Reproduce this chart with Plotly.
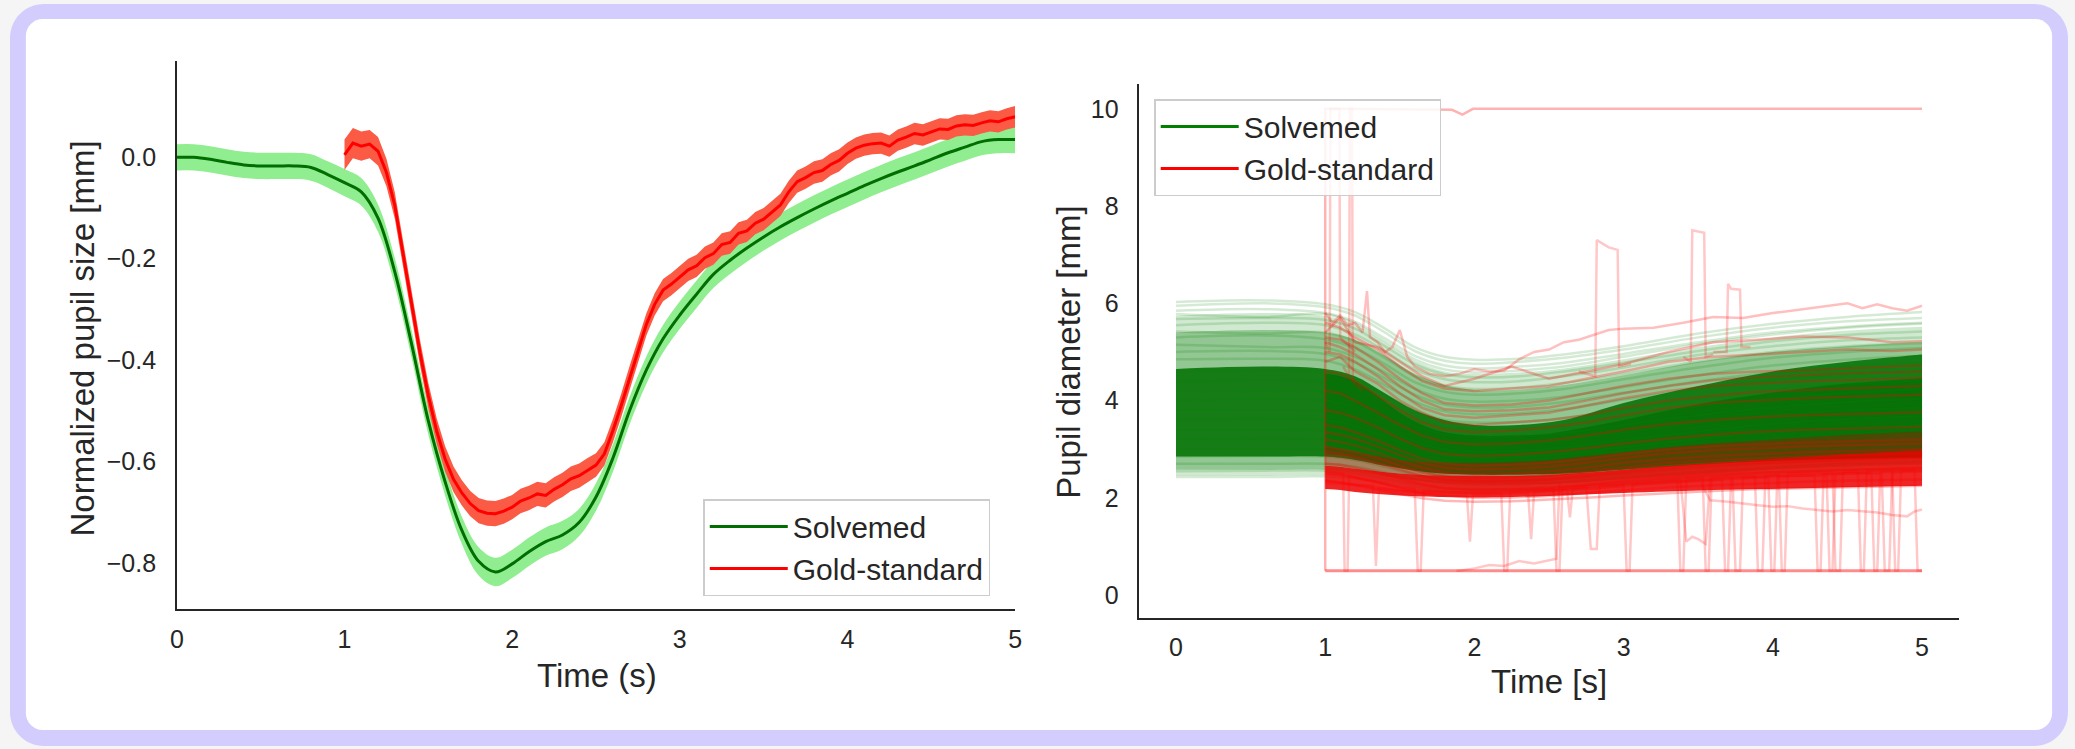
import plotly.graph_objects as go

W, H = 2075, 749

# ---------------- Left panel: normalized pupil size ----------------
T_SOLV = [0.0, 0.1, 0.2, 0.3, 0.4, 0.5, 0.6, 0.7, 0.8, 0.9, 1.0, 1.1, 1.2, 1.3, 1.4, 1.5, 1.6, 1.7, 1.8, 1.9,
          2.0, 2.1, 2.2, 2.3, 2.4, 2.5, 2.6, 2.7, 2.8, 2.9, 3.0, 3.1, 3.2, 3.3, 3.4, 3.5, 3.6, 3.7, 3.8, 3.9,
          4.0, 4.1, 4.2, 4.3, 4.4, 4.5, 4.6, 4.7, 4.8, 4.9, 5.0]
SOLV_MEAN = [0.0, 0.0, -0.004, -0.01, -0.015, -0.017, -0.017, -0.017, -0.02, -0.034, -0.05, -0.068, -0.12,
             -0.226, -0.368, -0.52, -0.64, -0.736, -0.797, -0.818, -0.802, -0.778, -0.758, -0.745, -0.72,
             -0.67, -0.594, -0.5, -0.42, -0.358, -0.311, -0.27, -0.231, -0.203, -0.179, -0.157, -0.137,
             -0.119, -0.102, -0.086, -0.071, -0.056, -0.042, -0.029, -0.017, -0.004, 0.009, 0.02, 0.031,
             0.035, 0.035]
SOLV_CI = [0.026, 0.026, 0.026, 0.026, 0.026, 0.026, 0.026, 0.026, 0.026, 0.026,
           0.027, 0.027, 0.027, 0.027, 0.027, 0.027, 0.027, 0.027, 0.028, 0.028,
           0.028, 0.028, 0.028, 0.028, 0.027, 0.027, 0.027, 0.027, 0.027, 0.027,
           0.027, 0.027, 0.027, 0.027, 0.027, 0.027, 0.027, 0.027, 0.027, 0.027,
           0.027, 0.027, 0.027, 0.027, 0.027, 0.027, 0.027, 0.027, 0.027, 0.027, 0.027]

T_GOLD = [1.0, 1.05, 1.1, 1.15, 1.2, 1.25, 1.3, 1.35, 1.4, 1.45, 1.5, 1.55, 1.6, 1.65, 1.7, 1.75, 1.8, 1.85,
          1.9, 1.95, 2.0, 2.05, 2.1, 2.15, 2.2, 2.25, 2.3, 2.35, 2.4, 2.45, 2.5, 2.55, 2.6, 2.65, 2.7, 2.75,
          2.8, 2.85, 2.9, 2.95, 3.0, 3.05, 3.1, 3.15, 3.2, 3.25, 3.3, 3.35, 3.4, 3.45, 3.5, 3.55, 3.6, 3.65,
          3.7, 3.75, 3.8, 3.85, 3.9, 3.95, 4.0, 4.05, 4.1, 4.15, 4.2, 4.25, 4.3, 4.35, 4.4, 4.45, 4.5, 4.55,
          4.6, 4.65, 4.7, 4.75, 4.8, 4.85, 4.9, 4.95, 5.0]
GOLD_MEAN = [0.005, 0.028, 0.022, 0.026, 0.012, -0.03, -0.095, -0.19, -0.29, -0.385, -0.47, -0.54, -0.595,
             -0.635, -0.662, -0.683, -0.697, -0.702, -0.703, -0.698, -0.69, -0.678, -0.672, -0.664, -0.667,
             -0.655, -0.646, -0.634, -0.628, -0.617, -0.607, -0.585, -0.54, -0.49, -0.435, -0.385, -0.33,
             -0.29, -0.262, -0.25, -0.236, -0.222, -0.214, -0.198, -0.19, -0.172, -0.168, -0.15, -0.145,
             -0.13, -0.122, -0.108, -0.094, -0.068, -0.048, -0.04, -0.03, -0.026, -0.014, -0.006, 0.008,
             0.018, 0.024, 0.027, 0.028, 0.022, 0.034, 0.04, 0.047, 0.044, 0.05, 0.056, 0.055, 0.062, 0.064,
             0.063, 0.068, 0.072, 0.07, 0.076, 0.08]
GOLD_CI = [0.03, 0.03, 0.029, 0.028, 0.028, 0.027, 0.026, 0.026, 0.025, 0.025,
           0.025, 0.025, 0.025, 0.025, 0.025, 0.025, 0.025, 0.025, 0.025, 0.025,
           0.024, 0.024, 0.024, 0.024, 0.024, 0.024, 0.024, 0.024, 0.024, 0.024,
           0.023, 0.023, 0.023, 0.023, 0.023, 0.023, 0.022, 0.022, 0.022, 0.022,
           0.022, 0.022, 0.022, 0.022, 0.022, 0.022, 0.022, 0.022, 0.022, 0.022,
           0.022, 0.022, 0.022, 0.022, 0.022, 0.022, 0.022, 0.022, 0.022, 0.022,
           0.021, 0.021, 0.021, 0.021, 0.021, 0.021, 0.021, 0.021, 0.021, 0.021,
           0.021, 0.021, 0.021, 0.021, 0.021, 0.021, 0.021, 0.021, 0.021, 0.021, 0.021]

LEFT_XTICKS = [0, 1, 2, 3, 4, 5]
LEFT_YTICKS = [-0.8, -0.6, -0.4, -0.2, 0.0]

# ---------------- Right panel: individual pupil diameter traces ----------------
T_GRID = [0.0, 0.6, 1.0, 1.2, 1.4, 1.6, 1.8, 2.0, 2.3, 2.6, 3.0, 3.5, 4.0, 4.5, 5.0]
SOLV_OUT_HI = [5.75, 5.8, 5.74, 5.55, 5.2, 4.82, 4.6, 4.55, 4.58, 4.66, 4.85, 5.1, 5.3, 5.44, 5.52]
SOLV_OUT_LO = [2.45, 2.45, 2.46, 2.42, 2.32, 2.22, 2.15, 2.12, 2.13, 2.17, 2.26, 2.36, 2.46, 2.52, 2.56]
SOLV_MID_HI = [5.4, 5.45, 5.4, 5.25, 4.92, 4.55, 4.32, 4.22, 4.23, 4.32, 4.52, 4.8, 5.0, 5.12, 5.2]
SOLV_MID_LO = [2.58, 2.58, 2.58, 2.53, 2.44, 2.36, 2.3, 2.28, 2.28, 2.3, 2.38, 2.48, 2.58, 2.64, 2.68]
SOLV_CORE_HI = [4.65, 4.7, 4.65, 4.5, 4.15, 3.8, 3.6, 3.5, 3.5, 3.6, 3.95, 4.3, 4.6, 4.8, 4.95]
SOLV_CORE_LO = [2.85, 2.85, 2.85, 2.78, 2.66, 2.56, 2.5, 2.48, 2.48, 2.5, 2.58, 2.68, 2.76, 2.8, 2.82]
SOLV_TRACES = [
    [6.03, 6.06, 5.98, 5.82, 5.48, 5.1, 4.9, 4.84, 4.86, 4.95, 5.12, 5.38, 5.58, 5.72, 5.82],
    [5.95, 6.0, 5.92, 5.75, 5.4, 5.02, 4.82, 4.76, 4.8, 4.88, 5.05, 5.3, 5.5, 5.63, 5.7],
    [5.85, 5.88, 5.8, 5.62, 5.28, 4.92, 4.72, 4.66, 4.7, 4.78, 4.96, 5.2, 5.4, 5.52, 5.6],
    [5.78, 5.72, 5.78, 5.58, 5.22, 4.85, 4.64, 4.58, 4.62, 4.7, 4.9, 5.16, 5.36, 5.5, 5.58],
    [5.68, 5.7, 5.66, 5.48, 5.12, 4.75, 4.54, 4.48, 4.5, 4.6, 4.78, 5.02, 5.22, 5.35, 5.42],
    [5.55, 5.6, 5.55, 5.36, 5.02, 4.64, 4.44, 4.38, 4.4, 4.5, 4.68, 4.94, 5.12, 5.24, 5.3],
    [5.42, 5.38, 5.4, 5.22, 4.88, 4.5, 4.3, 4.24, 4.27, 4.36, 4.55, 4.8, 5.0, 5.12, 5.18],
    [5.3, 5.34, 5.26, 5.08, 4.75, 4.38, 4.18, 4.12, 4.15, 4.24, 4.44, 4.68, 4.88, 5.0, 5.08],
    [5.15, 5.1, 5.08, 4.9, 4.58, 4.24, 4.04, 3.98, 4.0, 4.08, 4.28, 4.52, 4.72, 4.84, 4.92],
    [5.0, 5.02, 4.96, 4.78, 4.46, 4.12, 3.92, 3.86, 3.88, 3.97, 4.16, 4.4, 4.58, 4.7, 4.77],
    [4.85, 4.86, 4.82, 4.64, 4.32, 3.98, 3.78, 3.72, 3.74, 3.82, 4.02, 4.24, 4.42, 4.54, 4.62],
    [4.6, 4.62, 4.58, 4.42, 4.12, 3.8, 3.6, 3.55, 3.56, 3.64, 3.82, 4.04, 4.22, 4.34, 4.42],
    [4.4, 4.42, 4.38, 4.24, 3.95, 3.64, 3.45, 3.4, 3.41, 3.49, 3.66, 3.88, 4.05, 4.16, 4.24],
    [4.2, 4.2, 4.18, 4.04, 3.77, 3.48, 3.3, 3.25, 3.26, 3.33, 3.5, 3.7, 3.86, 3.97, 4.04],
    [4.0, 4.03, 4.0, 3.87, 3.6, 3.32, 3.15, 3.1, 3.11, 3.18, 3.34, 3.54, 3.7, 3.8, 3.86],
    [3.8, 3.8, 3.78, 3.66, 3.42, 3.16, 3.0, 2.96, 2.97, 3.04, 3.19, 3.37, 3.52, 3.62, 3.68],
    [3.6, 3.62, 3.6, 3.48, 3.26, 3.02, 2.87, 2.83, 2.84, 2.9, 3.04, 3.21, 3.35, 3.44, 3.5],
    [3.4, 3.4, 3.38, 3.28, 3.08, 2.86, 2.72, 2.68, 2.7, 2.75, 2.88, 3.04, 3.17, 3.26, 3.32],
    [3.2, 3.22, 3.2, 3.1, 2.92, 2.72, 2.6, 2.56, 2.57, 2.62, 2.74, 2.88, 3.0, 3.08, 3.14],
    [3.0, 3.0, 2.98, 2.9, 2.74, 2.57, 2.46, 2.43, 2.44, 2.49, 2.6, 2.73, 2.84, 2.92, 2.97],
    [2.85, 2.86, 2.85, 2.78, 2.64, 2.48, 2.38, 2.35, 2.36, 2.4, 2.5, 2.62, 2.72, 2.8, 2.85],
    [2.7, 2.7, 2.7, 2.64, 2.52, 2.38, 2.3, 2.27, 2.28, 2.32, 2.42, 2.53, 2.62, 2.7, 2.74],
    [2.55, 2.56, 2.56, 2.5, 2.4, 2.28, 2.2, 2.18, 2.19, 2.23, 2.32, 2.42, 2.52, 2.58, 2.62],
    [2.43, 2.43, 2.44, 2.4, 2.3, 2.2, 2.13, 2.1, 2.11, 2.15, 2.24, 2.34, 2.44, 2.5, 2.55],
]

T_GOLD_GRID = [1.0, 1.1, 1.2, 1.35, 1.5, 1.65, 1.8, 2.0, 2.25, 2.5, 2.75, 3.0, 3.3, 3.6, 3.9, 4.2, 4.5, 4.8, 5.0]
SOLV_LATE_HI = [4.55, 4.5, 4.4, 4.1, 3.75, 3.5, 3.35, 3.28, 3.28, 3.32, 3.45, 3.6, 3.8, 3.98, 4.12, 4.25, 4.35, 4.42, 4.46]
SOLV_LATE_LO = [2.9, 2.88, 2.82, 2.72, 2.62, 2.55, 2.5, 2.48, 2.48, 2.5, 2.54, 2.6, 2.68, 2.74, 2.78, 2.8, 2.82, 2.84, 2.85]
GOLD_CORE_HI = [2.66, 2.64, 2.6, 2.55, 2.5, 2.47, 2.46, 2.45, 2.45, 2.47, 2.52, 2.58, 2.66, 2.72, 2.78, 2.84, 2.9, 2.95, 2.98]
GOLD_CORE_LO = [2.18, 2.16, 2.12, 2.08, 2.05, 2.03, 2.02, 2.01, 2.02, 2.04, 2.07, 2.1, 2.13, 2.16, 2.18, 2.2, 2.22, 2.24, 2.25]
GOLD_MIX_HI = [3.05, 3.0, 2.94, 2.86, 2.78, 2.74, 2.72, 2.72, 2.74, 2.78, 2.86, 2.94, 3.04, 3.12, 3.18, 3.24, 3.3, 3.34, 3.37]
GOLD_TRACES = [
    [5.6, 5.5, 5.3, 5.05, 4.7, 4.4, 4.25, 4.2, 4.25, 4.3, 4.45, 4.6, 4.8, 4.9, 4.95, 5.0, 5.05, 5.02, 5.05],
    [5.3, 5.25, 5.1, 4.8, 4.45, 4.15, 3.95, 3.9, 3.92, 4.0, 4.15, 4.3, 4.45, 4.55, 4.6, 4.62, 4.66, 4.7, 4.72],
    [5.0, 4.95, 4.8, 4.5, 4.15, 3.85, 3.7, 3.65, 3.7, 3.75, 3.9, 4.05, 4.2, 4.3, 4.35, 4.4, 4.42, 4.45, 4.47],
    [4.6, 4.55, 4.4, 4.1, 3.8, 3.55, 3.4, 3.35, 3.38, 3.45, 3.55, 3.7, 3.85, 3.95, 4.0, 4.05, 4.08, 4.1, 4.12],
    [4.2, 4.15, 4.0, 3.75, 3.5, 3.28, 3.15, 3.1, 3.12, 3.18, 3.28, 3.4, 3.52, 3.6, 3.66, 3.7, 3.72, 3.75, 3.76],
    [3.8, 3.75, 3.65, 3.45, 3.22, 3.02, 2.9, 2.86, 2.88, 2.94, 3.02, 3.12, 3.22, 3.3, 3.36, 3.4, 3.42, 3.45, 3.46],
    [3.5, 3.45, 3.35, 3.18, 2.98, 2.8, 2.7, 2.66, 2.68, 2.72, 2.8, 2.9, 3.0, 3.06, 3.1, 3.14, 3.16, 3.18, 3.2],
    [3.2, 3.15, 3.08, 2.93, 2.76, 2.62, 2.52, 2.48, 2.5, 2.54, 2.62, 2.72, 2.8, 2.86, 2.9, 2.94, 2.96, 2.98, 3.0],
    [2.95, 2.9, 2.85, 2.72, 2.58, 2.45, 2.36, 2.33, 2.34, 2.38, 2.46, 2.54, 2.62, 2.68, 2.72, 2.75, 2.78, 2.8, 2.82],
    [2.7, 2.68, 2.62, 2.52, 2.4, 2.28, 2.2, 2.16, 2.17, 2.2, 2.27, 2.35, 2.42, 2.48, 2.52, 2.55, 2.58, 2.6, 2.62],
    [2.5, 2.48, 2.42, 2.32, 2.2, 2.1, 2.04, 2.0, 2.01, 2.04, 2.1, 2.16, 2.22, 2.26, 2.3, 2.33, 2.35, 2.37, 2.38],
    [2.35, 2.32, 2.26, 2.17, 2.07, 1.99, 1.94, 1.92, 1.93, 1.96, 2.0, 2.05, 2.1, 2.14, 2.18, 2.2, 2.22, 2.24, 2.25],
    [5.4, 5.7, 5.2, 5.1, 4.8, 4.5, 4.3, 4.45, 4.7, 4.45, 4.6, 4.75, 5.0, 5.2, 5.25, 5.32, 5.3, 5.2, 5.22],
    [4.8, 4.9, 4.6, 4.35, 4.0, 3.75, 3.55, 3.5, 3.55, 3.6, 3.7, 3.85, 4.0, 4.1, 4.18, 4.22, 4.25, 4.28, 4.3],
    [5.2, 5.1, 4.95, 4.65, 4.3, 4.0, 3.82, 3.78, 3.8, 3.86, 4.0, 4.15, 4.3, 4.42, 4.48, 4.52, 4.56, 4.58, 4.6],
    [3.35, 3.3, 3.22, 3.06, 2.88, 2.72, 2.62, 2.58, 2.6, 2.64, 2.72, 2.82, 2.92, 2.98, 3.02, 3.06, 3.08, 3.1, 3.12],
    [3.05, 3.0, 2.95, 2.82, 2.66, 2.52, 2.44, 2.4, 2.42, 2.46, 2.54, 2.63, 2.72, 2.78, 2.82, 2.85, 2.88, 2.9, 2.92],
]

# Artefact traces of the gold standard, as (time, diameter) samples
GOLD_TOP = [(1.0, 5.8), (1.05, 5.6), (1.1, 5.75), (1.15, 5.55), (1.2, 5.6), (1.25, 5.4), (1.28, 6.25),
            (1.3, 5.3), (1.35, 5.2), (1.4, 5.0), (1.45, 5.1), (1.5, 5.45), (1.55, 4.9), (1.6, 4.7),
            (1.7, 4.55), (1.8, 4.5), (1.9, 4.55), (2.0, 4.65), (2.1, 4.6), (2.2, 4.62), (2.3, 4.85),
            (2.4, 5.0), (2.5, 5.05), (2.6, 5.2), (2.7, 5.25), (2.8, 5.35), (2.9, 5.45), (3.0, 5.48),
            (3.2, 5.5), (3.4, 5.6), (3.6, 5.72), (3.8, 5.7), (4.0, 5.8), (4.2, 5.88), (4.4, 5.95),
            (4.5, 6.0), (4.6, 5.9), (4.7, 5.98), (4.8, 5.9), (4.9, 5.85), (5.0, 5.95)]
GOLD_TEN = [(1.0, 0.5), (1.0, 10.0), (1.06, 10.0), (1.85, 9.98), (1.92, 9.88), (1.99, 10.0), (2.2, 10.0), (5.0, 10.0)]
GOLD_FLOOR = [(1.0, 0.5), (5.0, 0.5)]
GOLD_SPIKE_A = [(1.0, 5.2), (1.03, 5.0), (1.035, 10.0), (1.095, 10.0), (1.1, 5.3), (1.2, 5.0)]
GOLD_SPIKE_B = [(1.12, 4.7), (1.16, 4.5), (1.165, 10.0), (1.18, 10.0), (1.185, 4.4), (1.25, 4.2)]
GOLD_SPIKE_C = [(2.7, 4.6), (2.81, 4.5), (2.82, 7.3), (2.9, 7.15), (2.96, 7.1), (2.97, 4.7), (3.05, 4.75)]
GOLD_SPIKE_D = [(3.4, 4.9), (3.45, 4.8), (3.46, 7.5), (3.5, 7.48), (3.54, 7.45), (3.55, 4.9), (3.6, 4.95)]
GOLD_SPIKE_E = [(3.6, 5.0), (3.69, 5.0), (3.7, 6.4), (3.72, 6.3), (3.78, 6.28), (3.79, 5.1), (3.85, 5.1)]
GOLD_BLINK_A = [(1.0, 2.55), (1.12, 2.5), (1.13, 0.5), (1.15, 0.5), (1.16, 2.45), (1.3, 2.35), (1.5, 2.22),
                (1.6, 2.18), (1.62, 0.5), (1.64, 0.5), (1.66, 2.15), (1.8, 2.12), (2.0, 2.1), (2.18, 2.1),
                (2.2, 0.5), (2.22, 0.5), (2.24, 2.12), (2.5, 2.15), (2.8, 2.2), (3.0, 2.25), (3.02, 0.5),
                (3.04, 0.5), (3.06, 2.28), (3.4, 2.35), (3.73, 2.4), (3.75, 0.5), (3.78, 0.5), (3.8, 2.42),
                (4.0, 2.45), (4.28, 2.46), (4.3, 0.5), (4.32, 0.5), (4.34, 2.48), (4.5, 2.5), (4.73, 2.5),
                (4.75, 0.5), (4.78, 0.5), (4.8, 2.52), (5.0, 2.55)]
GOLD_BLINK_B = [(1.0, 2.35), (1.5, 2.15), (2.0, 2.1), (2.53, 2.18), (2.55, 0.5), (2.57, 0.5), (2.59, 2.2),
                (3.0, 2.3), (3.36, 2.38), (3.38, 0.5), (3.4, 0.5), (3.42, 2.4), (3.53, 2.42), (3.55, 0.5),
                (3.57, 0.5), (3.59, 2.42), (3.88, 2.45), (3.9, 0.5), (3.93, 0.5), (3.95, 2.46), (4.04, 2.48),
                (4.06, 0.5), (4.08, 0.5), (4.1, 2.5), (4.4, 2.52), (4.42, 0.5), (4.45, 0.5), (4.47, 2.54),
                (4.57, 2.55), (4.59, 0.5), (4.61, 0.5), (4.63, 2.56), (4.95, 2.58), (4.97, 0.5), (5.0, 0.5)]
GOLD_BLINK_C = [(1.0, 2.3), (1.32, 2.25), (1.34, 0.6), (1.36, 2.2), (1.6, 2.1), (1.95, 2.05), (1.97, 1.1),
                (1.99, 2.05), (2.36, 2.1), (2.38, 1.15), (2.4, 2.12), (2.62, 2.18), (2.64, 1.6), (2.66, 2.2),
                (2.75, 2.22), (2.78, 0.95), (2.82, 0.95), (2.84, 2.25), (3.2, 2.3), (3.66, 2.38), (3.68, 0.5),
                (3.7, 0.5), (3.72, 2.4), (3.97, 2.42), (3.99, 0.5), (4.01, 0.5), (4.03, 2.44), (4.3, 2.46),
                (4.36, 2.48), (4.38, 0.5), (4.4, 0.5), (4.42, 2.5), (4.66, 2.52), (4.68, 0.5), (4.7, 0.5),
                (4.72, 2.54), (4.8, 2.55), (4.82, 0.5), (4.84, 0.5), (4.86, 2.56), (5.0, 2.58)]
GOLD_LOW = [(1.88, 0.5), (1.9, 0.5), (2.0, 0.55), (2.1, 0.62), (2.2, 0.6), (2.3, 0.7), (2.4, 0.65),
            (2.5, 0.72), (2.55, 0.75), (2.57, 2.3)]
GOLD_MIDDROP = [(3.38, 2.4), (3.42, 1.1), (3.46, 1.2), (3.5, 1.15), (3.55, 1.05), (3.58, 2.4)]
GOLD_SAG = [(3.52, 2.3), (3.58, 1.95), (3.7, 1.92), (3.8, 1.88), (3.9, 1.85), (4.0, 1.82), (4.1, 1.83),
            (4.2, 1.78), (4.3, 1.75), (4.4, 1.72), (4.5, 1.75), (4.6, 1.73), (4.7, 1.7), (4.8, 1.65),
            (4.9, 1.62), (4.95, 1.72), (5.0, 1.76)]

RIGHT_XTICKS = [0, 1, 2, 3, 4, 5]
RIGHT_YTICKS = [0, 2, 4, 6, 8, 10]

# ---------------- colours ----------------
GREEN = "#008000"
GREEN_DARK = "#006e00"
LIGHTGREEN = "#90ee90"
RED = "#ff0000"
TOMATO = "#fb5a44"
TXT = "#262626"
LAVENDER = "#d3cdfd"
FONT = "Liberation Sans, Arial, Helvetica, sans-serif"

fig = go.Figure()

# ---- left panel ----
solv_lo = [m - c for m, c in zip(SOLV_MEAN, SOLV_CI)]
solv_hi = [m + c for m, c in zip(SOLV_MEAN, SOLV_CI)]
gold_lo = [m - c for m, c in zip(GOLD_MEAN, GOLD_CI)]
gold_hi = [m + c for m, c in zip(GOLD_MEAN, GOLD_CI)]

fig.add_trace(go.Scatter(x=T_SOLV, y=solv_lo, mode="lines", line=dict(width=0, shape="spline"),
                         showlegend=False, hoverinfo="skip", xaxis="x", yaxis="y"))
fig.add_trace(go.Scatter(x=T_SOLV, y=solv_hi, mode="lines", line=dict(width=0, shape="spline"),
                         fill="tonexty", fillcolor=LIGHTGREEN, showlegend=False, hoverinfo="skip",
                         xaxis="x", yaxis="y"))
fig.add_trace(go.Scatter(x=T_SOLV, y=SOLV_MEAN, mode="lines", name="Solvemed",
                         line=dict(color=GREEN_DARK, width=3, shape="spline"), legend="legend",
                         xaxis="x", yaxis="y"))
fig.add_trace(go.Scatter(x=T_GOLD, y=gold_lo, mode="lines", line=dict(width=0),
                         showlegend=False, hoverinfo="skip", xaxis="x", yaxis="y"))
fig.add_trace(go.Scatter(x=T_GOLD, y=gold_hi, mode="lines", line=dict(width=0),
                         fill="tonexty", fillcolor=TOMATO, showlegend=False, hoverinfo="skip",
                         xaxis="x", yaxis="y"))
fig.add_trace(go.Scatter(x=T_GOLD, y=GOLD_MEAN, mode="lines", name="Gold-standard",
                         line=dict(color=RED, width=3), legend="legend", xaxis="x", yaxis="y"))

# ---- right panel: Solvemed traces ----
def band(xs, lo, hi, color, shape="spline"):
    fig.add_trace(go.Scatter(x=xs, y=lo, mode="lines", line=dict(width=0, shape=shape),
                             showlegend=False, hoverinfo="skip", xaxis="x2", yaxis="y2"))
    fig.add_trace(go.Scatter(x=xs, y=hi, mode="lines", line=dict(width=0, shape=shape),
                             fill="tonexty", fillcolor=color, showlegend=False, hoverinfo="skip",
                             xaxis="x2", yaxis="y2"))

band(T_GRID, SOLV_OUT_LO, SOLV_OUT_HI, "rgba(0,128,0,0.18)")
band(T_GRID, SOLV_MID_LO, SOLV_MID_HI, "rgba(0,120,0,0.3)")
band(T_GRID, SOLV_CORE_LO, SOLV_CORE_HI, "rgba(0,112,0,0.85)")
band(T_GOLD_GRID, SOLV_LATE_LO, SOLV_LATE_HI, "rgba(0,105,0,0.6)")
for row in SOLV_TRACES:
    fig.add_trace(go.Scatter(x=T_GRID, y=row, mode="lines",
                             line=dict(color="rgba(0,128,0,0.17)", width=2.5, shape="spline"),
                             showlegend=False, hoverinfo="skip", xaxis="x2", yaxis="y2"))

# ---- right panel: gold-standard traces ----
band(T_GOLD_GRID, GOLD_CORE_HI, GOLD_MIX_HI, "rgba(200,0,0,0.35)")
band(T_GOLD_GRID, GOLD_CORE_LO, GOLD_CORE_HI, "rgba(236,0,0,0.85)")
for row in GOLD_TRACES:
    fig.add_trace(go.Scatter(x=T_GOLD_GRID, y=row, mode="lines",
                             line=dict(color="rgba(255,0,0,0.28)", width=2.5),
                             showlegend=False, hoverinfo="skip", xaxis="x2", yaxis="y2"))

def gold_line(pts, alpha=0.22, width=2.5):
    fig.add_trace(go.Scatter(x=[p[0] for p in pts], y=[p[1] for p in pts], mode="lines",
                             line=dict(color=f"rgba(255,0,0,{alpha})", width=width),
                             showlegend=False, hoverinfo="skip", xaxis="x2", yaxis="y2"))

gold_line(GOLD_TOP, 0.25)
gold_line(GOLD_TEN, 0.3)
gold_line(GOLD_FLOOR, 0.45, 3)
for pts in (GOLD_SPIKE_A, GOLD_SPIKE_B, GOLD_SPIKE_C, GOLD_SPIKE_D, GOLD_SPIKE_E,
            GOLD_BLINK_A, GOLD_BLINK_B, GOLD_BLINK_C, GOLD_LOW, GOLD_MIDDROP, GOLD_SAG):
    gold_line(pts, 0.22)

# legend handles for the right panel
fig.add_trace(go.Scatter(x=[None], y=[None], mode="lines", name="Solvemed",
                         line=dict(color=GREEN, width=3), legend="legend2", xaxis="x2", yaxis="y2"))
fig.add_trace(go.Scatter(x=[None], y=[None], mode="lines", name="Gold-standard",
                         line=dict(color=RED, width=3), legend="legend2", xaxis="x2", yaxis="y2"))

# ---------------- card background ----------------
def px(x):
    return x / W

def py(y):
    return 1 - y / H

def rrect(x0, y0, x1, y1, r):
    k = 0.5523 * r
    pts = [
        ("M", [(x0 + r, y0)]),
        ("L", [(x1 - r, y0)]),
        ("C", [(x1 - r + k, y0), (x1, y0 + r - k), (x1, y0 + r)]),
        ("L", [(x1, y1 - r)]),
        ("C", [(x1, y1 - r + k), (x1 - r + k, y1), (x1 - r, y1)]),
        ("L", [(x0 + r, y1)]),
        ("C", [(x0 + r - k, y1), (x0, y1 - r + k), (x0, y1 - r)]),
        ("L", [(x0, y0 + r)]),
        ("C", [(x0, y0 + r - k), (x0 + r - k, y0), (x0 + r, y0)]),
    ]
    s = ""
    for cmd, cs in pts:
        s += cmd + " ".join(f"{px(a):.6f},{py(b):.6f}" for a, b in cs) + " "
    return s + "Z"

shapes = [
    dict(type="path", path=rrect(3, 4, 2075, 746, 34), xref="paper", yref="paper",
         fillcolor=LAVENDER, line=dict(width=0), layer="below"),
    dict(type="path", path=rrect(19, 19, 2059, 730, 17), xref="paper", yref="paper",
         fillcolor="white", line=dict(width=0), layer="below"),
]

axis_common = dict(showline=True, linecolor=TXT, linewidth=1.5, ticks="", showgrid=False,
                   zeroline=False, tickfont=dict(size=25, color=TXT, family=FONT))

legend_common = dict(xanchor="left", yanchor="top", bgcolor="rgba(255,255,255,0.85)",
                     bordercolor="#cccccc", borderwidth=1.5, font=dict(size=30, color=TXT, family=FONT),
                     itemwidth=78, tracegroupgap=0, traceorder="normal")

fig.update_layout(
    width=W, height=H, autosize=False,
    margin=dict(l=0, r=0, t=0, b=0, pad=0),
    paper_bgcolor="#f5f5f5", plot_bgcolor="rgba(0,0,0,0)",
    font=dict(family=FONT, color=TXT),
    shapes=shapes,
    xaxis=dict(domain=[px(171), px(1015)], range=[0, 5], tickvals=LEFT_XTICKS, anchor="y",
               ticklabelstandoff=7, **axis_common),
    yaxis=dict(domain=[py(609), py(61)], range=[-0.891, 0.19], tickvals=LEFT_YTICKS, tickformat=".1f",
               anchor="x", ticklabelstandoff=14, **axis_common),
    xaxis2=dict(domain=[px(1140), px(1965)], range=[-0.246, 5.246], tickvals=RIGHT_XTICKS, anchor="y2",
                ticklabelstandoff=6, **axis_common),
    yaxis2=dict(domain=[py(618), py(84)], range=[-0.47, 10.51], tickvals=RIGHT_YTICKS, anchor="x2",
                ticklabelstandoff=14, **axis_common),
    legend=dict(x=px(701), y=py(499), **legend_common),
    legend2=dict(x=px(1155), y=py(99), **legend_common),
    annotations=[
        dict(text="Normalized pupil size [mm]", x=px(76), y=py(338), xref="paper", yref="paper",
             textangle=-90, showarrow=False, font=dict(size=33, color=TXT, family=FONT),
             xanchor="center", yanchor="middle"),
        dict(text="Time (s)", x=px(594), y=py(675), xref="paper", yref="paper", showarrow=False,
             font=dict(size=33, color=TXT, family=FONT), xanchor="center", yanchor="middle"),
        dict(text="Pupil diameter [mm]", x=px(1068), y=py(352), xref="paper", yref="paper",
             textangle=-90, showarrow=False, font=dict(size=33, color=TXT, family=FONT),
             xanchor="center", yanchor="middle"),
        dict(text="Time [s]", x=px(1552), y=py(681), xref="paper", yref="paper", showarrow=False,
             font=dict(size=33, color=TXT, family=FONT), xanchor="center", yanchor="middle"),
    ],
)

fig.write_html("out.html", config={"displayModeBar": False},
               post_script="document.body.style.margin='0';")
